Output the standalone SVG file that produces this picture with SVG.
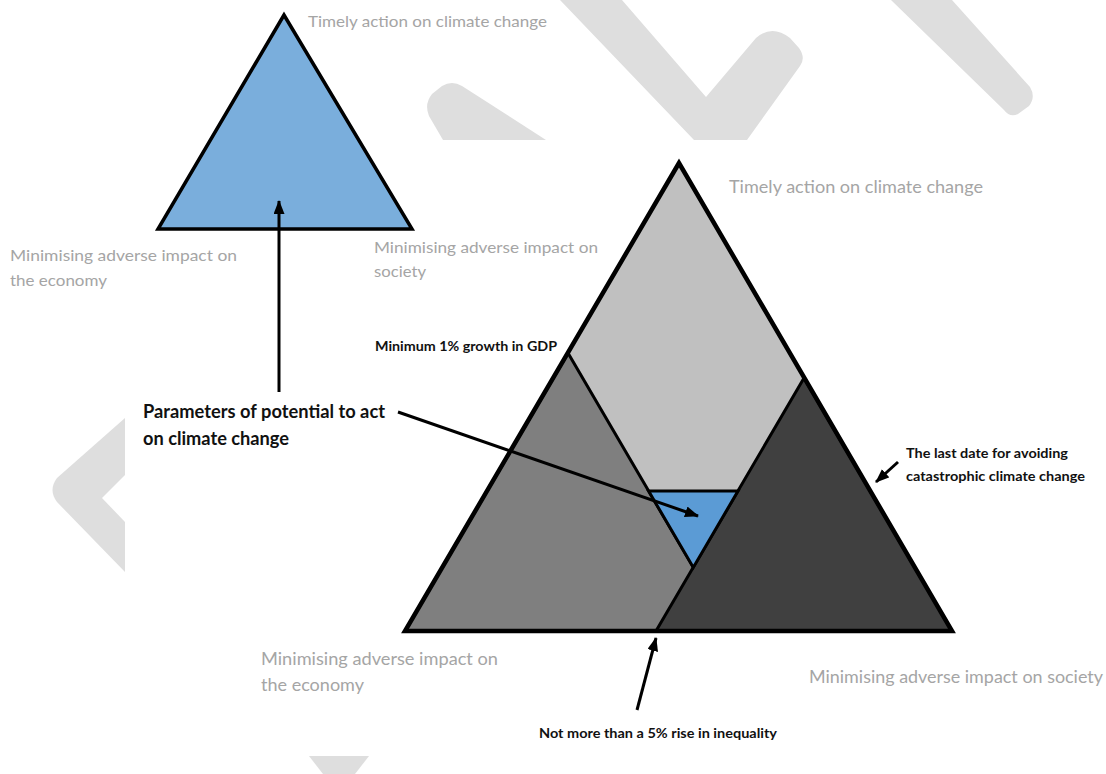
<svg xmlns="http://www.w3.org/2000/svg" width="1106" height="774" viewBox="0 0 1106 774">
<style>
.wm{fill:#dedede;stroke:none}
.lbl{font-family:Lato,"Open Sans","Liberation Sans",sans-serif;fill:#a5a5a5}
.bold{font-family:Lato,"Open Sans","Liberation Sans",sans-serif;font-weight:bold;fill:#111}
.edge{stroke:#000;stroke-linejoin:miter;stroke-width:3}
.conn{stroke:#000;stroke-width:3;fill:none;marker-end:url(#ah)}
</style>
<defs>
<marker id="ah" markerWidth="15" markerHeight="12" refX="13" refY="5.5" orient="auto" markerUnits="userSpaceOnUse">
<path d="M0,0 L14,5.5 L0,11 z" fill="#000"/>
</marker>
</defs>
<rect width="1106" height="774" fill="#fff"/>
<g id="watermark">
<path class="wm" d="M443,140 L429,116 Q424,104 432,94 L442,86 Q452,80 462,86 L546,140 Z"/>
<path class="wm" d="M560,0 L622,0 L706,97 L756,38 Q772,24 790,38 L799,48 Q806,58 800,66 L747,140 L694,140 Z"/>
<path class="wm" d="M891,0 L952,0 L1030,87 Q1036,97 1029,106 L1018,114 Q1010,118 1004,110 Z"/>
<path class="wm" d="M125,418 L125,475 L102,498 L125,522 L125,572 L57,502 Q48,490 57,478 Z"/>
<path class="wm" d="M309,756 L369,756 L355,774 L323,774 Z"/>
</g>
<g id="small-triangle">
<polygon points="284,15 158,229 412,229" fill="#7aaedc" stroke="#000" stroke-width="3.5" stroke-linejoin="miter"/>
</g>
<g id="big-triangle">
<polygon points="679,163 405,631 952,631" fill="#c0c0c0" stroke="none"/>
<polygon id="economy-region" class="edge" points="568,353 405,631 730.5,631" fill="#7f7f7f"/>
<polygon id="society-region" class="edge" points="804,378 656,631 952,631" fill="#404040"/>
<polygon id="feasible-region" class="edge" points="648.6,491 738,491 693.3,567.4" fill="#5b9bd5"/>
<polygon points="679,163 405,631 952,631" fill="none" stroke="#000" stroke-width="4.5" stroke-linejoin="miter"/>
</g>
<g id="labels-small">
<text class="lbl" x="308" y="27" font-size="16" textLength="239" lengthAdjust="spacingAndGlyphs">Timely action on climate change</text>
<text class="lbl" x="10" y="261" font-size="16" textLength="227" lengthAdjust="spacingAndGlyphs">Minimising adverse impact on</text>
<text class="lbl" x="10" y="286" font-size="16" textLength="97" lengthAdjust="spacingAndGlyphs">the economy</text>
<text class="lbl" x="374" y="253" font-size="16" textLength="224" lengthAdjust="spacingAndGlyphs">Minimising adverse impact on</text>
<text class="lbl" x="374" y="277" font-size="16" textLength="52" lengthAdjust="spacingAndGlyphs">society</text>
</g>
<g id="labels-big">
<text class="lbl" x="729" y="193" font-size="17" textLength="254" lengthAdjust="spacingAndGlyphs">Timely action on climate change</text>
<text class="lbl" x="261" y="665" font-size="17" textLength="237" lengthAdjust="spacingAndGlyphs">Minimising adverse impact on</text>
<text class="lbl" x="261" y="691" font-size="17" textLength="103" lengthAdjust="spacingAndGlyphs">the economy</text>
<text class="lbl" x="809" y="683" font-size="17" textLength="294" lengthAdjust="spacingAndGlyphs">Minimising adverse impact on society</text>
</g>
<g id="label-gdp"><text class="bold" x="375" y="351" font-size="14" textLength="182" lengthAdjust="spacingAndGlyphs">Minimum 1% growth in GDP</text></g>
<g id="label-parameters">
<text class="bold" x="143" y="418" font-size="18" textLength="242" lengthAdjust="spacingAndGlyphs">Parameters of potential to act</text>
<text class="bold" x="143" y="445" font-size="18" textLength="146" lengthAdjust="spacingAndGlyphs">on climate change</text>
</g>
<g id="label-lastdate">
<text class="bold" x="906" y="458" font-size="14" textLength="162" lengthAdjust="spacingAndGlyphs">The last date for avoiding</text>
<text class="bold" x="906" y="481" font-size="14" textLength="179" lengthAdjust="spacingAndGlyphs">catastrophic climate change</text>
</g>
<g id="label-inequality"><text class="bold" x="539" y="738" font-size="14" textLength="238" lengthAdjust="spacingAndGlyphs">Not more than a 5% rise in inequality</text></g>
<g id="connectors">
<line class="conn" x1="279" y1="392" x2="279" y2="201"/>
<line class="conn" x1="398" y1="412" x2="698" y2="516"/>
<line class="conn" x1="898" y1="462" x2="876" y2="482"/>
<line class="conn" x1="637" y1="710" x2="656" y2="638"/>
</g>
</svg>
